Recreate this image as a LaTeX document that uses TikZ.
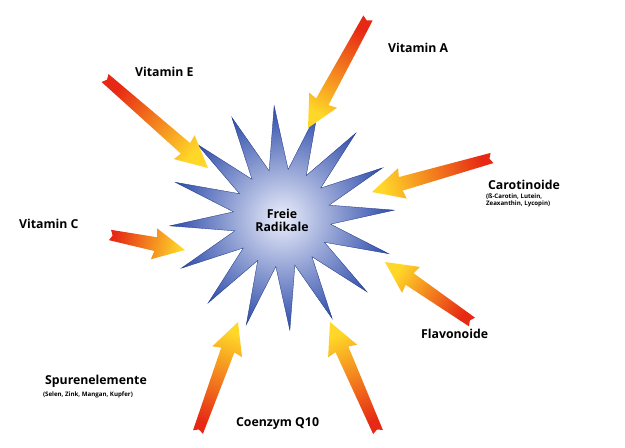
\documentclass[tikz,border=0pt]{standalone}
\usepackage{fontspec}
\setmainfont{Open Sans}
\usetikzlibrary{shapes.geometric, positioning, calc}
\definecolor{arrowred}{RGB}{230, 40, 20}
\definecolor{arrowyellow}{RGB}{255, 215, 40}
\definecolor{starblue}{RGB}{45, 75, 170}
\definecolor{starlight}{RGB}{235, 238, 250}
% tapering arrow from tail (#1) to head (#2), #3 = direction angle
\newcommand{\fightarrow}[3]{%
  \path[left color=arrowred, right color=arrowyellow, shading angle={#3+90}, draw=none]
    let \p1=($(#2)-(#1)$), \n1={veclen(\x1,\y1)}, \n2={atan2(\y1,\x1)} in
    [shift={(#1)}, rotate=\n2]
    (0pt,-6pt) -- ({\n1-34pt},-8pt) -- ({\n1-36pt},-18pt) -- (\n1,0pt)
    -- ({\n1-36pt},18pt) -- ({\n1-34pt},8pt) -- (0pt,6pt) -- (3pt,0pt) -- cycle;}
\begin{document}
\begin{tikzpicture}[
    x=0.04cm, y=-0.04cm,
    label/.style={font=\fontsize{14}{15}\selectfont\bfseries, align=left, anchor=west},
    sublabel/.style={font=\fontsize{7}{8}\selectfont\bfseries, align=left, anchor=north west, inner sep=1pt},
    radical/.style={star, star points=16, star point ratio=2.3, minimum size=9cm, inner sep=0pt,
      inner color=starlight, outer color=starblue, draw=starblue!80!black, thin, align=center,
      font=\fontsize{14}{15}\selectfont\bfseries}
]
    \useasboundingbox (0,0) rectangle (625,448);
    % Centre
    \node[radical, rotate=4] (radikale) at (282,218) {};
    \node[font=\fontsize{14}{15}\selectfont\bfseries, align=center] (radtext) at (282,220) {Freie\\Radikale};

    % Arrow tails and heads
    \coordinate (aT) at (368,18);  \coordinate (aH) at (308,128);
    \coordinate (eT) at (105,78);  \coordinate (eH) at (208,168);
    \coordinate (kT) at (492,158); \coordinate (kH) at (372,192);
    \coordinate (cT) at (110,235); \coordinate (cH) at (185,250);
    \coordinate (fT) at (472,322); \coordinate (fH) at (385,262);
    \coordinate (qT) at (378,432); \coordinate (qH) at (330,322);
    \coordinate (sT) at (198,432); \coordinate (sH) at (238,322);
    \fightarrow{aT}{aH}{241.4}
    \fightarrow{eT}{eH}{-41.1}
    \fightarrow{kT}{kH}{195.8}
    \fightarrow{cT}{cH}{-11.3}
    \fightarrow{fT}{fH}{145.4}
    \fightarrow{qT}{qH}{113.6}
    \fightarrow{sT}{sH}{70}

    % Labels
    \node[label] (vita) at (385,48) {Vitamin A};
    \node[label] (vite) at (132,72) {Vitamin E};
    \node[label] (carot) at (485,185) {Carotinoide};
    \node[sublabel] (carotsub) at (carot.south west) {(ß-Carotin, Lutein,\\Zeaxanthin, Lycopin)};
    \node[label] (vitc) at (16,224) {Vitamin C};
    \node[label] (flavo) at (418,334) {Flavonoide};
    \node[label] (spuren) at (42,381) {Spurenelemente};
    \node[sublabel] (spurensub) at (spuren.south west) {(Selen, Zink, Mangan, Kupfer)};
    \node[label] (coenz) at (233,424) {Coenzym Q10};
\end{tikzpicture}
\end{document}
